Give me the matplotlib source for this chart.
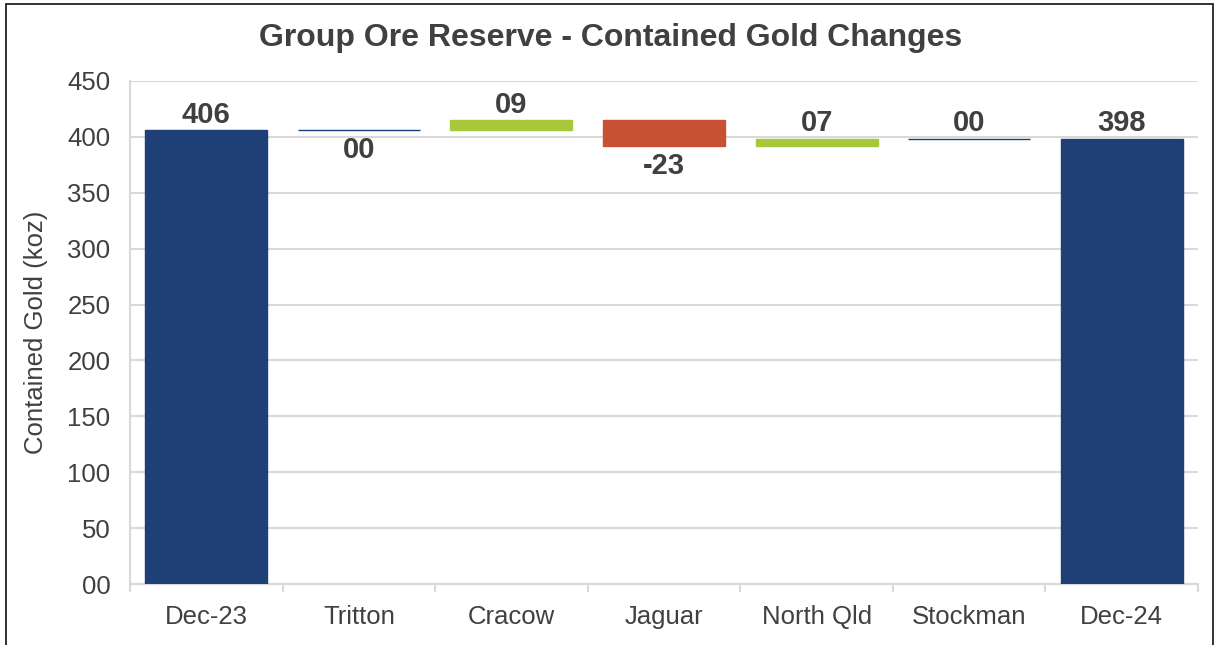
import matplotlib.pyplot as plt
from matplotlib.patches import Rectangle

plt.rcParams["font.family"] = ["Liberation Sans", "DejaVu Sans"]

categories = ["Dec-23", "Tritton", "Cracow", "Jaguar", "North Qld", "Stockman", "Dec-24"]
opening = 406.1
deltas = [0.0, 8.9, -23.3, 6.6, 0.0]
# which side of the bar the label sits on (Excel put some below)
label_below = [False, True, False, True, False, False, False]

NAVY = "#1F3F77"
GREEN = "#A8C83A"
RED = "#C85133"
TEXT = "#404040"
GRID = "#D9D9D9"

W, H = 1216, 645
fig = plt.figure(figsize=(W / 100, H / 100), dpi=100)
ax = fig.add_axes([130 / W, (H - 584) / H, (1198 - 130) / W, (584 - 81) / H])

closing = opening + sum(deltas)
bottoms = [0.0]
heights = [opening]
colors = [NAVY]
level = opening
for d in deltas:
    bottoms.append(level if d >= 0 else level + d)
    heights.append(abs(d))
    colors.append(GREEN if d > 0 else (RED if d < 0 else NAVY))
    level += d
bottoms.append(0.0)
heights.append(closing)
colors.append(NAVY)
values = [opening] + deltas + [closing]

x = range(len(categories))
ax.bar(x, heights, bottom=bottoms, width=0.8, color=colors,
       edgecolor=colors, linewidth=1.0, zorder=3)

for i, v in enumerate(values):
    txt = "%02d" % round(v) if abs(v) < 100 else "%d" % round(v)
    if v < 0:
        txt = "-%02d" % round(abs(v))
    if label_below[i]:
        ax.annotate(txt, (i, bottoms[i]), xytext=(0, -4), textcoords="offset points",
                    ha="center", va="top", fontsize=21, fontweight="bold", color=TEXT)
    else:
        ax.annotate(txt, (i, bottoms[i] + heights[i]), xytext=(0, 1),
                    textcoords="offset points", ha="center", va="bottom",
                    fontsize=21, fontweight="bold", color=TEXT)

ax.set_xlim(-0.5, len(categories) - 0.5)
ax.set_ylim(0, 450)
ax.set_yticks(range(0, 451, 50))
ax.set_yticklabels(["%02d" % t for t in range(0, 451, 50)])
ax.set_xticks(list(x))
ax.set_xticklabels(categories)
ax.set_xticks([i - 0.5 for i in range(len(categories) + 1)], minor=True)
ax.tick_params(axis="x", which="major", length=0, pad=15, labelsize=18.5, labelcolor=TEXT)
ax.tick_params(axis="x", which="minor", length=6, width=1.5, color=GRID)
ax.tick_params(axis="y", length=0, pad=14, labelsize=18.5, labelcolor=TEXT)

ax.grid(axis="y", color=GRID, linewidth=1.5, zorder=0)
ax.set_axisbelow(True)
for s in ["top", "right"]:
    ax.spines[s].set_visible(False)
for s in ["left", "bottom"]:
    ax.spines[s].set_color(GRID)
    ax.spines[s].set_linewidth(1.5)

ax.set_ylabel("Contained Gold (koz)", fontsize=18.5, color=TEXT, labelpad=14)
fig.text(611 / W, 1 - 38 / H, "Group Ore Reserve - Contained Gold Changes",
         ha="center", va="center", fontsize=23, fontweight="bold", color=TEXT)

fig.patches.append(Rectangle((6 / W, -0.05), (1213 - 6) / W, 1.05 - 4 / H,
                             transform=fig.transFigure, fill=False,
                             edgecolor="#222222", linewidth=1.3))

fig.savefig("out.png", dpi=100)
